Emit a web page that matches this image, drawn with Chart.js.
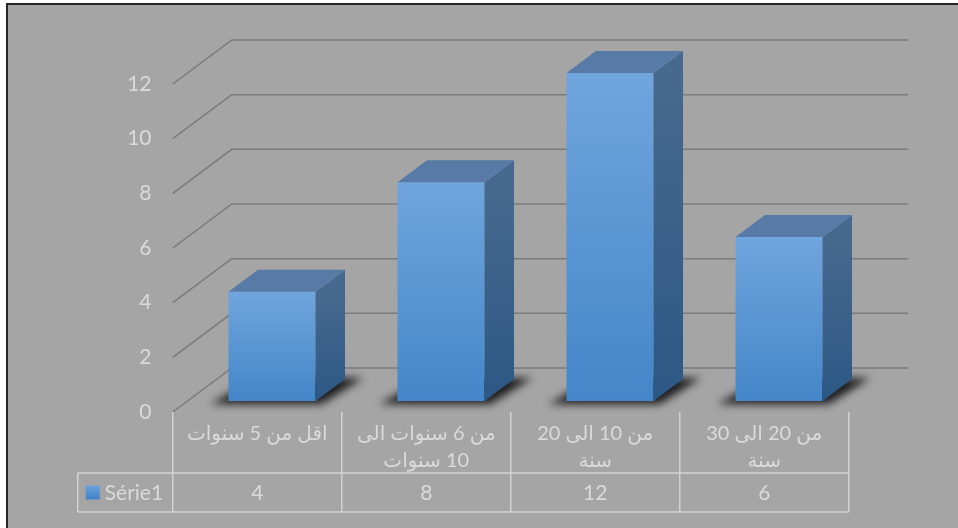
<!DOCTYPE html>
<html>
<head>
<meta charset="utf-8">
<script src="https://cdn.jsdelivr.net/npm/chart.js@4.4.1/dist/chart.umd.min.js"></script>
<style>
  html, body { margin: 0; padding: 0; background: #fff; }
  canvas { display: block; }
</style>
</head>
<body>
<canvas id="chart" width="958" height="528"></canvas>
<script>
/* ================= DATA ================= */
const categories = [
  "اقل من 5 سنوات",
  ["من 6 سنوات الى", "10 سنوات"],
  ["من 10 الى 20", "سنة"],
  ["من 20 الى 30", "سنة"]
];
const seriesName = "Série1";
const seriesValues = [4, 8, 12, 6];
const yTicks = [0, 2, 4, 6, 8, 10, 12];

/* ================= STYLE ================= */
const BG = "#a5a5a5";
const TEXT = "#dadada";
const GRID = "#7b7b7b";
const TABLE_LINE = "#d2d2d2";
const FONT_FAMILY = "Lato, 'DejaVu Sans', sans-serif";
const DX = 59, DY = 44;          // full depth of the floor
const FRONT = 0.25, BACK = 0.75; // where the bars sit in that depth

function frontGradient(ctx, top, base) {
  const g = ctx.createLinearGradient(0, top, 0, base);
  g.addColorStop(0, "#70a5dd");
  g.addColorStop(1, "#4486c9");
  return g;
}

/* ================= 3D + TABLE PLUGIN ================= */
const look3d = {
  id: "look3d",
  beforeDraw(chart) {
    const { ctx, width, height } = chart;
    ctx.save();
    ctx.fillStyle = "#ffffff";
    ctx.fillRect(0, 0, width, height);
    ctx.fillStyle = "#262626";
    ctx.fillRect(6, 3, width - 6, height - 3);
    ctx.fillStyle = BG;
    ctx.fillRect(8, 5, width - 8, height - 5);
    ctx.restore();
  },
  beforeDatasetsDraw(chart) {
    const { ctx, chartArea } = chart;
    const ys = chart.scales.y;
    const frontLeft = chartArea.left - DX * FRONT;
    const backRight = chartArea.right + DX * (1 - FRONT);
    ctx.save();
    ctx.strokeStyle = GRID;
    ctx.lineWidth = 1.5;
    yTicks.forEach(v => {
      const y = ys.getPixelForValue(v);
      ctx.beginPath();
      ctx.moveTo(frontLeft, y + DY * FRONT);
      ctx.lineTo(frontLeft + DX, y - DY * (1 - FRONT));
      ctx.lineTo(backRight, y - DY * (1 - FRONT));
      ctx.stroke();
    });

    // soft shadows under the bars
    const dx = DX * (BACK - FRONT), dy = DY * (BACK - FRONT);
    ctx.filter = "blur(4px)";
    ctx.fillStyle = "rgba(20,20,20,0.95)";
    chart.getDatasetMeta(0).data.forEach(bar => {
      const x0 = bar.x - bar.width / 2, x1 = bar.x + bar.width / 2, b = bar.base;
      ctx.beginPath();
      ctx.moveTo(x0 - 18, b + 3);
      ctx.lineTo(x1 + 6, b + 3);
      ctx.lineTo(x1 + dx + 18, b - dy - 1);
      ctx.lineTo(x0 + dx, b - dy - 1);
      ctx.closePath();
      ctx.fill();
    });
    ctx.restore();
  },
  afterDatasetsDraw(chart) {
    const { ctx } = chart;
    const dx = DX * (BACK - FRONT), dy = DY * (BACK - FRONT);
    ctx.save();
    chart.getDatasetMeta(0).data.forEach(bar => {
      const x0 = bar.x - bar.width / 2, x1 = bar.x + bar.width / 2;
      const top = bar.y, base = bar.base;
      // side face
      const gs = ctx.createLinearGradient(0, top, 0, base);
      gs.addColorStop(0, "#47698f");
      gs.addColorStop(1, "#2c5885");
      ctx.fillStyle = gs;
      ctx.beginPath();
      ctx.moveTo(x1, top);
      ctx.lineTo(x1 + dx, top - dy);
      ctx.lineTo(x1 + dx, base - dy);
      ctx.lineTo(x1, base);
      ctx.closePath();
      ctx.fill();
      // top face
      ctx.fillStyle = "#577ba6";
      ctx.beginPath();
      ctx.moveTo(x0, top);
      ctx.lineTo(x0 + dx, top - dy);
      ctx.lineTo(x1 + dx, top - dy);
      ctx.lineTo(x1, top);
      ctx.closePath();
      ctx.fill();
    });
    ctx.restore();
  },
  afterDraw(chart) {
    const { ctx } = chart;
    const xs = chart.scales.x, ys = chart.scales.y;
    const n = categories.length;
    const step = xs.getPixelForValue(1) - xs.getPixelForValue(0);
    const top = ys.getPixelForValue(0) + DY * FRONT;
    const rowY = top + 61, bottom = top + 100;
    const left0 = xs.getPixelForValue(0) - DX * FRONT - step / 2;
    const right = left0 + step * n;
    const legendLeft = left0 - 95;

    ctx.save();
    ctx.strokeStyle = TABLE_LINE;
    ctx.lineWidth = 1.5;
    ctx.beginPath();
    for (let i = 0; i <= n; i++) {
      const x = left0 + i * step;
      ctx.moveTo(x, top);
      ctx.lineTo(x, bottom);
    }
    ctx.moveTo(legendLeft, rowY);
    ctx.lineTo(right, rowY);
    ctx.moveTo(legendLeft, bottom);
    ctx.lineTo(right, bottom);
    ctx.moveTo(legendLeft, rowY);
    ctx.lineTo(legendLeft, bottom);
    ctx.stroke();

    ctx.fillStyle = TEXT;
    ctx.textAlign = "center";
    ctx.textBaseline = "middle";
    const midRow = (rowY + bottom) / 2;
    categories.forEach((c, i) => {
      const cx = left0 + (i + 0.5) * step;
      const lines = Array.isArray(c) ? c : [c];
      ctx.direction = "rtl";
      ctx.font = "20px " + FONT_FAMILY;
      lines.forEach((line, j) => ctx.fillText(line, cx, top + 22 + j * 27));
      ctx.direction = "ltr";
      ctx.font = "21px " + FONT_FAMILY;
      ctx.fillText(String(seriesValues[i]), cx, midRow + 1);
    });

    // legend key
    const g = ctx.createLinearGradient(0, midRow - 7, 0, midRow + 7);
    g.addColorStop(0, "#6aa2dc");
    g.addColorStop(1, "#3f82c7");
    ctx.fillStyle = g;
    ctx.fillRect(legendLeft + 8, midRow - 7, 14, 14);
    ctx.fillStyle = TEXT;
    ctx.textAlign = "left";
    ctx.font = "21px " + FONT_FAMILY;
    ctx.fillText(seriesName, legendLeft + 27, midRow + 1);
    ctx.restore();
  }
};

/* ================= CHART ================= */
new Chart(document.getElementById("chart"), {
  type: "bar",
  data: {
    labels: categories,
    datasets: [{
      label: seriesName,
      data: seriesValues,
      backgroundColor: c => {
        const ys = c.chart.scales.y;
        if (!ys || !c.chart.chartArea || c.dataIndex === undefined) return "#5a95d4";
        const top = ys.getPixelForValue(seriesValues[c.dataIndex]);
        const base = ys.getPixelForValue(0);
        if (!isFinite(top) || !isFinite(base)) return "#5a95d4";
        return frontGradient(c.chart.ctx, top, base);
      },
      borderWidth: 0,
      barPercentage: 0.515,
      categoryPercentage: 1
    }]
  },
  options: {
    responsive: false,
    devicePixelRatio: 1,
    animation: false,
    layout: { padding: { left: 127.5, right: 94.5, top: 73, bottom: 127 } },
    plugins: {
      legend: { display: false },
      tooltip: { enabled: false }
    },
    scales: {
      x: { display: false, offset: true },
      y: {
        min: 0,
        max: 12,
        afterBuildTicks: s => { s.ticks = yTicks.map(v => ({ value: v })); },
        afterFit: s => { s.width = 60; },
        grid: { display: false, drawTicks: false },
        border: { display: false },
        ticks: {
          color: TEXT,
          font: { family: FONT_FAMILY, size: 21 },
          padding: 36,
          labelOffset: 11
        }
      }
    }
  },
  plugins: [look3d]
});
</script>
</body>
</html>
